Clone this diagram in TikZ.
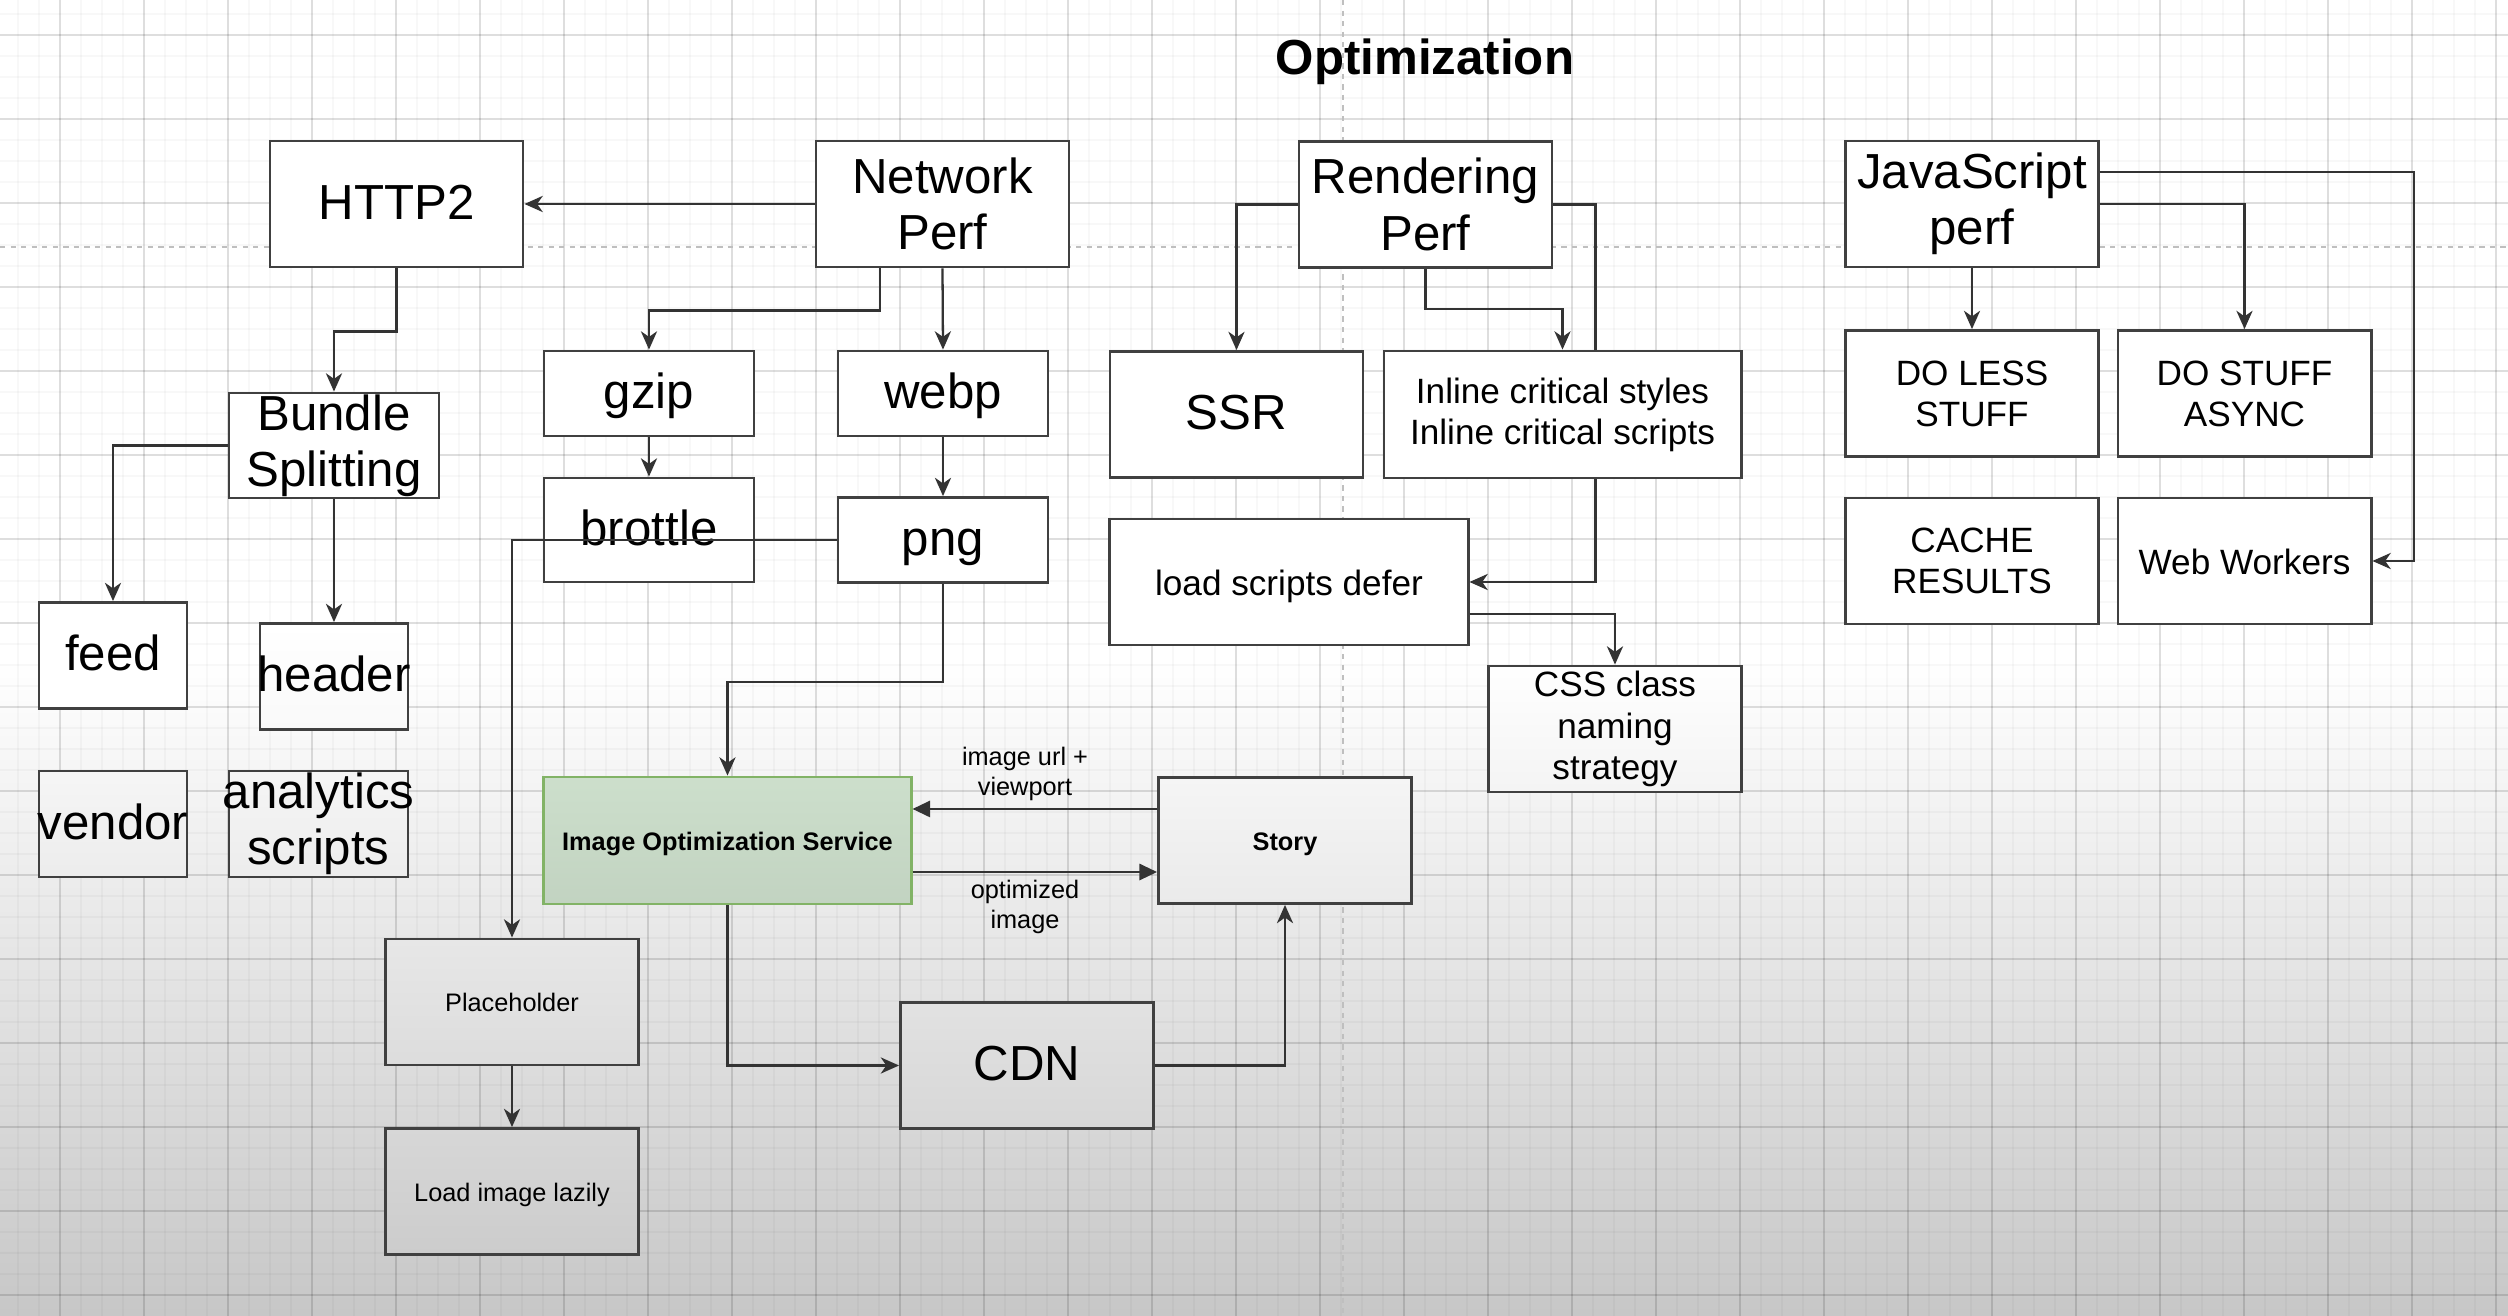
\documentclass[tikz,border=0pt]{standalone}
\usepackage{fontspec}
\setmainfont{Liberation Sans}
\usetikzlibrary{arrows.meta}
\pgfdeclarelayer{bg}
\pgfdeclarelayer{behind}
\pgfsetlayers{bg,behind,main}
\definecolor{iosfill}{HTML}{D5E8D4}
\definecolor{iosline}{HTML}{82B366}
\tikzset{
  box/.style={draw=black!75, line width=0.8pt, fill=white, align=center, inner sep=0pt, font=\fontsize{14}{16}\selectfont},
  mid/.style={font=\fontsize{10}{11.7}\selectfont},
  lil/.style={align=center, font=\fontsize{7.2}{8.6}\selectfont},
  heavy/.style={font=\fontsize{7.2}{8.6}\selectfont\bfseries},
  one/.style={text height=11.8pt, text depth=3pt},
  onemid/.style={text height=9.7pt, text depth=2.1pt},
  onelil/.style={text height=7.2pt, text depth=1.6pt},
  wide/.style={minimum width=2.53cm, minimum height=1.26cm},
  half/.style={minimum width=2.1cm, minimum height=0.85cm},
  chip/.style={minimum width=1.48cm, minimum height=1.06cm},
  tight/.style={inner xsep=-10pt},
  tint/.style 2 args={top color=black!#1, bottom color=black!#2},
  arr/.style={draw=black!80, line width=0.65pt, -{Stealth[length=5.2pt,width=4.6pt,inset=1.6pt]}},
  blk/.style={draw=black!80, line width=0.65pt, -{Triangle[length=5pt,width=4.6pt]}},
  minor/.style={black, opacity=0.028, line width=0.3pt},
  major/.style={black, opacity=0.1, line width=0.4pt},
  guide/.style={black!25, line width=0.35pt, dash pattern=on 1.5pt off 1.5pt}
}
\begin{document}
\begin{tikzpicture}[x=0.01cm,y=-0.01cm]
\useasboundingbox (0,0) rectangle (2508,1316);
\begin{pgfonlayer}{bg}
\fill[white] (0,0) rectangle (2508,660);
\shade[top color=white,bottom color=black!22] (0,660) rectangle (2508,1316);
\foreach \i in {0,...,118}
	\draw[minor] ({18+21*\i},0) -- ({18+21*\i},1316);
\foreach \i in {0,...,61}
	\draw[minor] (0,{14+21*\i}) -- (2508,{14+21*\i});
\foreach \i in {0,...,29}
	\draw[major] ({60+84*\i},0) -- ({60+84*\i},1316);
\foreach \i in {0,...,15}
	\draw[major] (0,{35+84*\i}) -- (2508,{35+84*\i});
\draw[guide] (0,247) -- (2508,247);
\draw[guide] (1343,0) -- (1343,1316);
\end{pgfonlayer}

\node[font=\fontsize{14}{16}\selectfont\bfseries] (title) at (1425,62) {Optimization};

\node[box,wide,one] (http) at (396.5,204) {HTTP2};
\node[box,wide] (net) at (942.5,204) {Network\\Perf};
\node[box,wide] (rend) at (1425.5,204.5) {Rendering\\Perf};
\node[box,wide] (js) at (1972,204) {JavaScript\\perf};
\node[box,minimum width=2.1cm,minimum height=1.05cm] (bundle) at (334,445.5) {Bundle\\Splitting};
\node[box,half,one] (gzip) at (649,393.5) {gzip};
\node[box,half,one] (webp) at (943,393.5) {webp};
\node[box,half,one,minimum height=1.04cm] (brottle) at (649,530) {brottle};
\node[box,half,one] (png) at (943,540) {png};
\node[box,wide,one] (ssr) at (1236.5,414.5) {SSR};
\node[box,mid,minimum width=3.57cm,minimum height=1.27cm] (inline) at (1562.5,414.5) {Inline critical styles\\Inline critical scripts};
\node[box,mid,onemid,minimum width=3.58cm,minimum height=1.26cm] (defer) at (1289,582) {load scripts defer};
\node[box,mid,wide,tint={0.2}{4.4}] (css) at (1615,729) {CSS class\\naming\\strategy};
\node[box,mid,wide] (doless) at (1972,393.5) {DO LESS\\STUFF};
\node[box,mid,wide] (async) at (2244.5,393.5) {DO STUFF\\ASYNC};
\node[box,mid,wide] (cache) at (1972,561) {CACHE\\RESULTS};
\node[box,mid,onemid,wide] (workers) at (2244.5,561) {Web Workers};
\node[box,chip,one] (feed) at (113,655.5) {feed};
\node[box,chip,one,tight,tint={0}{2.3}] (header) at (334,676.5) {header};
\node[box,chip,one,tight,tint={3.7}{7.3}] (vendor) at (113,824) {vendor};
\node[box,chip,tight,minimum width=1.79cm,tint={3.7}{7.3}] (analytics) at (318.5,824) {analytics\\scripts};
\node[box,heavy,onelil,draw=iosline,top color=iosfill!96!black,bottom color=iosfill!91!black,minimum width=3.67cm,minimum height=1.27cm] (ios) at (727.5,840.5) {Image Optimization Service};
\node[box,heavy,onelil,wide,tint={3.9}{8.2}] (story) at (1285,840.5) {Story};
\node[box,lil,onelil,wide,tint={9.4}{13.6}] (place) at (512,1002) {Placeholder};
\node[box,lil,onelil,wide,tint={15.7}{20}] (lazy) at (512,1191.5) {Load image lazily};
\node[box,wide,one,tint={11.5}{15.7}] (cdn) at (1027,1065.5) {CDN};
\node[lil] (askurl) at (1025,774) {image url +\\viewport};
\node[lil] (gotimg) at (1025,907) {optimized\\image};

\draw[arr] (net.west) -- (http.east);
\draw[arr] (http.south) -- ++(0,63) -| (bundle.north);
\draw[arr] ([xshift=-0.625cm]net.south) -- ++(0,42) -| (gzip.north);
\draw[arr] (net.south) -- (webp.north);
\draw[arr] (gzip) -- (brottle);
\draw[arr] (webp) -- (png);
\draw[arr] (bundle.west) -| (feed.north);
\draw[arr] (bundle.south) -- (header.north);
\draw[arr] (png.west) -| (place.north);
\draw[arr] (png.south) -- ++(0,98) -| (ios.north);
\draw[arr] (rend.west) -| (ssr.north);
\draw[arr] (rend.south) -- ++(0,40) -| (inline.north);
\begin{pgfonlayer}{behind}
\draw[arr] (rend.east) -- ++(42,0) |- (defer.east);
\end{pgfonlayer}
\draw[arr] ([yshift=-0.32cm]defer.east) -| (css.north);
\draw[arr] (js.south) -- (doless.north);
\draw[arr] (js.east) -| (async.north);
\draw[arr] ([yshift=0.32cm]js.east) -- ++(314,0) |- (workers.east);
\draw[blk] ([yshift=0.315cm]story.west) -- ([yshift=0.315cm]ios.east);
\draw[blk] ([yshift=-0.315cm]ios.east) -- ([yshift=-0.315cm]story.west);
\draw[arr] (ios.south) |- (cdn.west);
\draw[arr] (cdn.east) -| (story.south);
\draw[arr] (place) -- (lazy);
\end{tikzpicture}
\end{document}
